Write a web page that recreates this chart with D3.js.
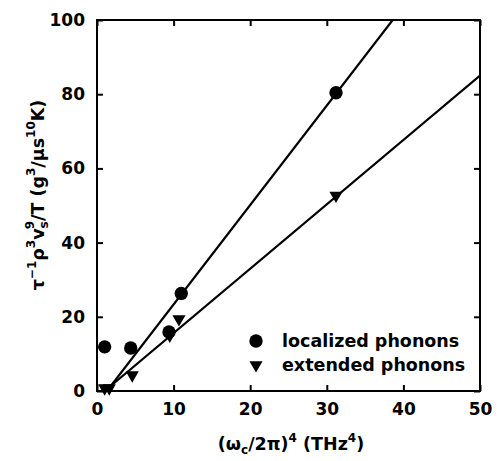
<!DOCTYPE html>
<html>
<head>
<meta charset="utf-8">
<script src="https://cdn.jsdelivr.net/npm/d3@7"></script>
<style>
  body { margin: 0; background: #fff; }
  svg { font-family: "DejaVu Sans", sans-serif; font-weight: bold; }
  .axis path { display: none; }
  .axis line { stroke: #000; stroke-width: 2; }
  .axis text { font-family: "DejaVu Sans", sans-serif; font-size: 17px; font-weight: bold; fill: #000; }
</style>
</head>
<body>
<div id="chart"></div>
<script>
// localized phonons (circles)
var locX = [1.0, 4.4, 9.4, 11.0, 31.2];
var locY = [11.9, 11.6, 15.9, 26.3, 80.4];
// extended phonons (down triangles)
var extX = [1.0, 1.6, 4.6, 9.5, 10.7, 31.2];
var extY = [0.8, 0.8, 4.3, 15.0, 19.4, 52.7];
// straight-line fits, end points
var locFit = [[1.3, 0], [38.6, 100]];
var extFit = [[1.0, 0], [50, 85]];

var xTicks = [0, 10, 20, 30, 40, 50];
var yTicks = [0, 20, 40, 60, 80, 100];

var W = 497, H = 461;
var margin = {top: 20, right: 17, bottom: 70, left: 97};

var svg = d3.select("#chart").append("svg").attr("width", W).attr("height", H);

var x = d3.scaleLinear().domain([0, 50]).range([margin.left, W - margin.right]);
var y = d3.scaleLinear().domain([0, 100]).range([H - margin.bottom, margin.top]);

var tick = 6;

svg.append("g").attr("class", "axis")
  .attr("transform", "translate(0," + y(0) + ")")
  .call(d3.axisBottom(x).tickValues(xTicks).tickSize(-tick).tickPadding(12));
svg.append("g").attr("class", "axis")
  .attr("transform", "translate(" + x(0) + ",0)")
  .call(d3.axisLeft(y).tickValues(yTicks).tickSize(-tick).tickPadding(12));
svg.append("g").attr("class", "axis")
  .attr("transform", "translate(0," + y(100) + ")")
  .call(d3.axisTop(x).tickValues(xTicks).tickSize(-tick).tickFormat(""));
svg.append("g").attr("class", "axis")
  .attr("transform", "translate(" + x(50) + ",0)")
  .call(d3.axisRight(y).tickValues(yTicks).tickSize(-tick).tickFormat(""));

// frame
svg.append("rect")
  .attr("x", x(0)).attr("y", y(100))
  .attr("width", x(50) - x(0)).attr("height", y(0) - y(100))
  .attr("fill", "none").attr("stroke", "#000").attr("stroke-width", 2);

svg.append("clipPath").attr("id", "plot").append("rect")
  .attr("x", x(0)).attr("y", y(100))
  .attr("width", x(50) - x(0)).attr("height", y(0) - y(100));

var line = d3.line().x(function(d){ return x(d[0]) }).y(function(d){ return y(d[1]) });

[locFit, extFit].forEach(function(f){
  svg.append("path").attr("d", line(f))
    .attr("clip-path", "url(#plot)")
    .attr("fill", "none").attr("stroke", "#000").attr("stroke-width", 2.2);
});

var circ = d3.symbol().type(d3.symbolCircle).size(140);
var tri = d3.symbol().type(d3.symbolTriangle).size(75);

svg.selectAll(".loc").data(locX).enter().append("path")
  .attr("class", "loc")
  .attr("d", circ)
  .attr("transform", function(d, i){ return "translate(" + x(d) + "," + y(locY[i]) + ")" });

svg.selectAll(".ext").data(extX).enter().append("path")
  .attr("class", "ext")
  .attr("d", tri)
  .attr("transform", function(d, i){ return "translate(" + x(d) + "," + y(extY[i]) + ") rotate(180)" });

// legend
var legend = [["localized phonons", circ, 0], ["extended phonons", tri, 180]];
legend.forEach(function(l, i){
  var ly = 341 + i * 24;
  svg.append("path").attr("d", l[1])
    .attr("transform", "translate(256," + ly + ") rotate(" + l[2] + ")");
  svg.append("text").attr("x", 282).attr("y", ly + 6)
    .style("font-size", "17.5px").text(l[0]);
});

// x label
var xl = svg.append("text").attr("x", 291).attr("y", 450)
  .attr("text-anchor", "middle").style("font-size", "17.5px");
xl.append("tspan").text("(ω");
xl.append("tspan").attr("dy", 4).style("font-size", "12px").text("c");
xl.append("tspan").attr("dy", -4).text("/2π)");
xl.append("tspan").attr("dy", -8).style("font-size", "12px").text("4");
xl.append("tspan").attr("dy", 8).text(" (THz");
xl.append("tspan").attr("dy", -8).style("font-size", "12px").text("4");
xl.append("tspan").attr("dy", 8).text(")");

// y label
var yl = svg.append("text")
  .attr("transform", "translate(44,195) rotate(-90)")
  .attr("text-anchor", "middle").style("font-size", "17.5px");
yl.append("tspan").text("τ");
yl.append("tspan").attr("dy", -8).style("font-size", "12px").text("−1");
yl.append("tspan").attr("dy", 8).text("ρ");
yl.append("tspan").attr("dy", -9).style("font-size", "12px").text("3");
yl.append("tspan").attr("dy", 9).text("v");
yl.append("tspan").attr("dy", 4).style("font-size", "12px").text("s");
yl.append("tspan").attr("dy", -14).attr("dx", -8).style("font-size", "12px").text("9");
yl.append("tspan").attr("dy", 10).text("/T (g");
yl.append("tspan").attr("dy", -9).style("font-size", "12px").text("3");
yl.append("tspan").attr("dy", 9).text("/μs");
yl.append("tspan").attr("dy", -9).style("font-size", "12px").text("10");
yl.append("tspan").attr("dy", 9).text("K)");
</script>
</body>
</html>
